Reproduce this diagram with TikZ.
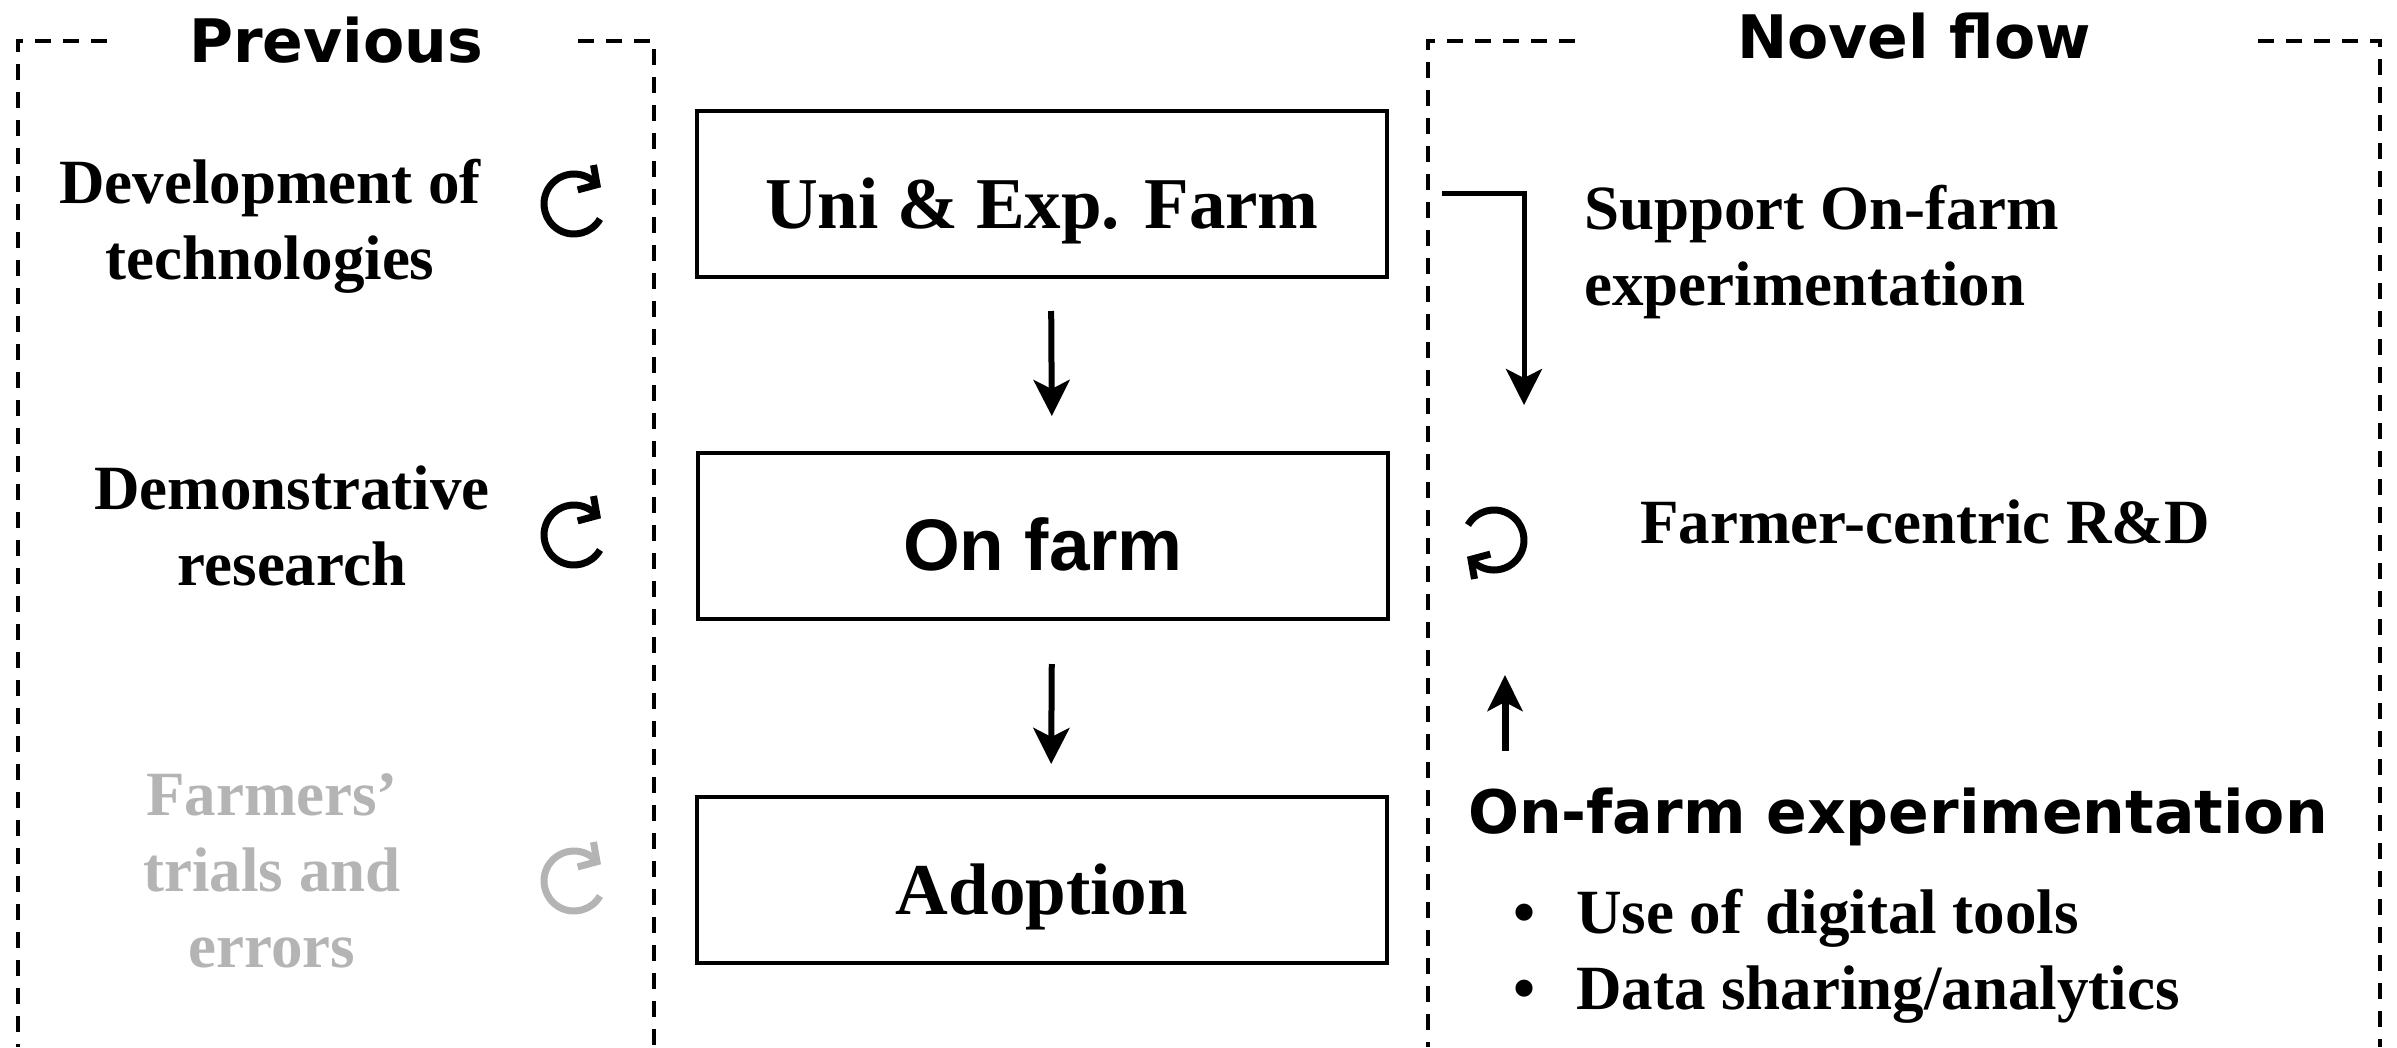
\documentclass[tikz,border=0pt]{standalone}
\usepackage{fontspec}
\setmainfont{Liberation Serif}
\newfontfamily\hdfont{DejaVu Sans}
\newfontfamily\arialfont{Liberation Sans}
\usetikzlibrary{arrows.meta}
\definecolor{faded}{RGB}{180,180,180}

\tikzset{
  frame/.style={line width=4pt, dash pattern=on 16pt off 12pt},
  stage/.style={draw, line width=4pt, minimum width=690pt, minimum height=166pt,
    inner sep=0pt, text height=68pt, text depth=0pt,
    font=\bfseries\fontsize{73}{88}\selectfont},
  side/.style={align=center, inner sep=0pt, font=\bfseries\fontsize{63}{76}\selectfont},
  head/.style={inner sep=0pt, font=\hdfont\bfseries\fontsize{60}{72}\selectfont},
  flow/.style={line width=6pt, -{Stealth[length=36pt,width=36pt,inset=9pt]}},
  cyc/.pic={
    \draw[line width=7pt] (-30:30) arc[start angle=-30, end angle=-320, radius=30];
    \draw[line width=7pt, line join=miter] (40:30) ++(100:20) -- (40:30) -- ++(195:20);
  },
}

\begin{document}
\begin{tikzpicture}[x=1pt,y=1pt]
\useasboundingbox (0,0) rectangle (2397,-1047);

% dashed frames of the two panels, open at the bottom
\draw[frame] (107,-41) -- (18,-41) -- (18,-1047);
\draw[frame] (578,-41) -- (654,-41) -- (654,-1047);
\draw[frame] (1575,-41) -- (1428,-41) -- (1428,-1047);
\draw[frame] (2258,-41) -- (2380,-41) -- (2380,-1047);

% panel headings
\node[head, anchor=base] (prevhead) at (336,-62) {Previous};
\node[head, anchor=base] (novelhead) at (1914,-58) {Novel flow};

% central stages
\node[stage] (uni) at (1042,-194) {Uni \& Exp. Farm};
\node[stage, font=\arialfont\bfseries\fontsize{73}{88}\selectfont] (onfarm) at (1043,-536) {On farm};
\node[stage] (adopt) at (1042,-880) {Adoption};

\draw[flow, shorten <=32pt, shorten >=35pt] ([xshift=9pt]uni.south) -- ([xshift=9pt]onfarm.north);
\draw[flow, shorten <=43pt, shorten >=31pt] ([xshift=9pt]onfarm.south) -- ([xshift=9pt]adopt.north);

% previous approach (base anchor = baseline of the last line)
\node[side, anchor=base] (devtech) at (270,-279) {Development of\\technologies};
\node[side, anchor=base] (demo) at (292,-585) {Demonstrative\\research};
\node[side, anchor=base, text=faded] (trials) at (272,-967) {Farmers’\\trials and\\errors};

\pic (loopA) at (574,-204) {cyc};
\pic (loopB) at (574,-535) {cyc};
\pic[color=faded] (loopC) at (574,-881) {cyc};

% novel flow
\node[side, anchor=base west, align=left] (support) at (1584,-305) {Support On-farm\\experimentation};
\node[side, anchor=base] (rnd) at (1925,-543) {Farmer-centric R\&D};
\pic[rotate=180] (loopR) at (1494,-540) {cyc};

\coordinate (suppstart) at (1442,-193);
\coordinate (suppend) at (1524,-405);
\draw[flow, line width=5pt, line join=miter] (suppstart) -| (suppend);

\node[head, anchor=base west] (ofe) at (1468,-833) {On-farm experimentation};
\node[side, anchor=base west, align=left] (tools) at (1513,-1009)
  {\makebox[63pt][l]{\textbullet}Use of\hspace{0.12em} digital tools\\
   \makebox[63pt][l]{\textbullet}Data sharing/analytics};

\coordinate (upstart) at (1505,-751);
\coordinate (upend) at (1505,-675);
\draw[flow, line width=7pt, -{Stealth[length=36pt,width=35pt,inset=9pt]}] (upstart) -- (upend);
\end{tikzpicture}
\end{document}
